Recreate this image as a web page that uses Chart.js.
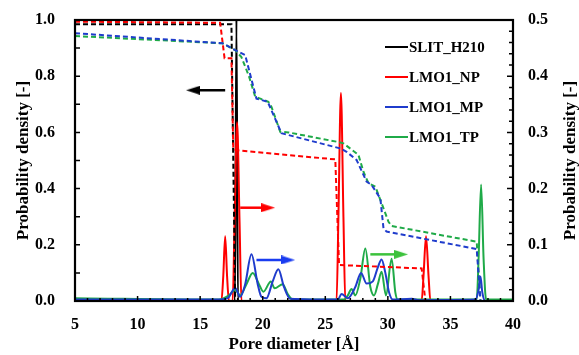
<!DOCTYPE html>
<html>
<head>
<meta charset="utf-8">
<script src="https://cdn.jsdelivr.net/npm/chart.js@4/dist/chart.umd.min.js"></script>
<style>
  html, body { margin: 0; padding: 0; background: #fff; }
</style>
</head>
<body>
<canvas id="chart" width="579" height="355"></canvas>
<script>
// --- data (x = pore diameter in Å) ---
const seriesNames = ['SLIT_H210', 'LMO1_NP', 'LMO1_MP', 'LMO1_TP'];
const seriesColors = ['#000000', '#ff0000', '#1f3ccc', '#1faa48'];
const yTitle = 'Probability density [-]';

// SLIT_H210, left axis
const slitPdf = [[5,0],[17.78,0],[17.9,1.0],[18.02,0],[40,0]];
const slitCum = [[5,0.985],[17.5,0.985],[17.8,0],[40,0]];

// LMO1 samples, right axis
const npPdf = [[5,0],[16.7,0],[16.85,0.045],[17.0,0.115],[17.15,0.045],[17.3,0],[17.6,0],[17.75,0.14],
  [17.95,0.318],[18.15,0.14],[18.3,0],[25.9,0],[26.05,0.15],[26.25,0.37],[26.45,0.15],[26.6,0],
  [32.7,0],[32.85,0.045],[33.05,0.115],[33.25,0.045],[33.4,0],[40,0]];
const npCum = [[5,0.497],[16.6,0.495],[16.95,0.432],[17.5,0.432],[17.65,0.27],[18.0,0.268],
  [25.8,0.252],[26.1,0.064],[32.7,0.058],[33.0,0],[40,0]];

const mpPdf = [[5,0.0025],[16.5,0.0025],[17.2,0.005],[17.8,0.023],[18.2,0.0075],[18.6,0.03],[19.1,0.083],
  [19.6,0.03],[19.9,0.0075],[20.3,0.005],[20.8,0.035],[21.25,0.0565],[21.7,0.025],[22.2,0.004],
  [26.0,0.0025],[26.3,0.0125],[26.8,0.005],[27.4,0.025],[27.86,0.05],[28.3,0.031],[28.8,0.035],
  [29.2,0.06],[29.5,0.074],[29.8,0.05],[30.1,0.015],[30.4,0.0025],[31.9,0.004],[32.5,0.0015],
  [37.0,0.0025],[37.25,0.02],[37.4,0.0435],[37.55,0.015],[37.8,0],[40,0]];
const mpCum = [[5,0.4765],[16.8,0.4585],[17.8,0.4465],[18.6,0.4375],[19.5,0.36],[20.4,0.3545],
  [21.5,0.2985],[26.2,0.2715],[26.7,0.2655],[27.5,0.251],[28.3,0.2125],[28.7,0.2065],[29.4,0.1825],
  [29.65,0.1295],[29.9,0.1235],[37.1,0.0925],[37.4,0],[40,0]];

const tpPdf = [[5,0.005],[16.5,0.0025],[17.3,0.01],[17.8,0.02],[18.2,0.01],[18.7,0.03],[19.2,0.05],
  [19.7,0.03],[20.05,0.0165],[20.65,0.0345],[20.95,0.0225],[21.6,0.03],[22.0,0.0125],[22.4,0.0025],
  [26.5,0.0025],[26.8,0.01],[27.1,0.0215],[27.4,0.01],[27.8,0.04],[28.2,0.0935],[28.6,0.025],
  [28.9,0.01],[29.2,0.03],[29.5,0.052],[29.85,0.01],[30.3,0.075],[30.6,0.015],[30.8,0.0025],
  [37.1,0.0025],[37.25,0.075],[37.45,0.2075],[37.65,0.075],[37.85,0.0025],[40,0.0025]];
const tpCum = [[5,0.4715],[16.8,0.4585],[17.8,0.4465],[18.3,0.434],[18.9,0.4],[19.4,0.3635],
  [20.45,0.3545],[20.7,0.3455],[21.4,0.301],[22.05,0.3],[25.9,0.2835],[26.45,0.2805],[27.65,0.26],
  [28.05,0.23],[28.45,0.2095],[29.0,0.2035],[29.5,0.174],[30.05,0.141],[30.3,0.1335],[37.1,0.1055],
  [37.4,0],[40,0]];

// axis arrows (start, head)
const arrowSlit = [[17.0,0.75],[14.43,0.75]];
const arrowNp = [[18.2,0.166],[20.43,0.166]];
const arrowMp = [[19.5,0.073],[22.03,0.073]];
const arrowTp = [[28.6,0.083],[31.06,0.083]];

const pts = arr => arr.map(p => ({ x: p[0], y: p[1] }));

function arrowHead(color, left) {
  const c = document.createElement('canvas');
  c.width = 14; c.height = 9;
  const g = c.getContext('2d');
  g.fillStyle = color;
  g.beginPath();
  if (left) { g.moveTo(0, 4.5); g.lineTo(14, 0); g.lineTo(14, 9); }
  else { g.moveTo(14, 4.5); g.lineTo(0, 0); g.lineTo(0, 9); }
  g.closePath(); g.fill();
  return c;
}

function pdfSet(data, color, axis) {
  return { data: pts(data), yAxisID: axis, borderColor: color, borderWidth: 2,
    pointRadius: 0, cubicInterpolationMode: 'monotone', fill: false };
}
function cumSet(data, color, axis) {
  return { data: pts(data), yAxisID: axis, borderColor: color, borderWidth: 2,
    borderDash: [5, 3], pointRadius: 0, tension: 0, fill: false };
}
function arrowSet(data, color, axis, left) {
  return { data: pts(data), yAxisID: axis, borderColor: color, borderWidth: 2.5,
    pointRadius: [0, 7], pointStyle: [false, arrowHead(color, left)], tension: 0 };
}

const font = 'Liberation Serif';
const frame = {
  id: 'frame',
  afterDatasetsDraw(chart) {
    const { ctx, chartArea: a, scales: { x, y, y2 } } = chart;
    ctx.save();
    ctx.strokeStyle = '#000';
    ctx.lineWidth = 1.5;
    ctx.beginPath();
    for (let v = 5; v <= 40; v++) {
      const px = x.getPixelForValue(v);
      ctx.moveTo(px, a.bottom); ctx.lineTo(px, a.bottom - (v % 5 === 0 ? 5 : 3));
    }
    for (let i = 0; i <= 10; i++) {
      const py = y.getPixelForValue(i / 10);
      ctx.moveTo(a.left, py); ctx.lineTo(a.left + 5, py);
    }
    for (let i = 0; i <= 25; i++) {
      const py = y2.getPixelForValue(i * 0.02);
      ctx.moveTo(a.right, py); ctx.lineTo(a.right - (i % 5 === 0 ? 6 : 4), py);
    }
    ctx.stroke();
    ctx.lineWidth = 2.2;
    ctx.strokeRect(a.left, a.top, a.width, a.height);

    // legend inside the plot
    ctx.font = 'bold 15px "' + font + '"';
    ctx.textBaseline = 'middle';
    ctx.fillStyle = '#000';
    seriesNames.forEach((name, i) => {
      const ly = a.top + 27 + i * 30;
      const lx = a.right - 128;
      ctx.strokeStyle = seriesColors[i];
      ctx.lineWidth = 2;
      ctx.beginPath(); ctx.moveTo(lx, ly); ctx.lineTo(lx + 23, ly); ctx.stroke();
      ctx.fillText(name, lx + 24, ly + 1);
    });

    // right axis title, read bottom to top like the left one
    ctx.font = 'bold 17px "' + font + '"';
    ctx.textAlign = 'center';
    ctx.translate(chart.width - 8, (a.top + a.bottom) / 2);
    ctx.rotate(-Math.PI / 2);
    ctx.fillText(yTitle, 0, 0);
    ctx.restore();
  }
};

const tickFont = { family: font, size: 16, weight: 'bold' };
const titleFont = { family: font, size: 17, weight: 'bold' };
const noPad = s => { s.paddingTop = 0; s.paddingBottom = 0; s.paddingLeft = 0; s.paddingRight = 0; };

new Chart(document.getElementById('chart'), {
  type: 'line',
  data: {
    datasets: [
      cumSet(mpCum, seriesColors[2], 'y2'),
      cumSet(tpCum, seriesColors[3], 'y2'),
      cumSet(npCum, seriesColors[1], 'y2'),
      cumSet(slitCum, seriesColors[0], 'y'),
      pdfSet(mpPdf, seriesColors[2], 'y2'),
      pdfSet(tpPdf, seriesColors[3], 'y2'),
      pdfSet(npPdf, seriesColors[1], 'y2'),
      pdfSet(slitPdf, seriesColors[0], 'y'),
      arrowSet(arrowSlit, '#000000', 'y', true),
      arrowSet(arrowNp, '#ff0000', 'y2', false),
      arrowSet(arrowMp, '#1a3cf0', 'y2', false),
      arrowSet(arrowTp, '#3cc23c', 'y2', false)
    ]
  },
  options: {
    responsive: false,
    animation: false,
    layout: { padding: { top: 20, left: 0, right: 0, bottom: 0 } },
    plugins: { legend: { display: false }, tooltip: { enabled: false } },
    scales: {
      x: {
        type: 'linear', min: 5, max: 40,
        grid: { display: false, drawTicks: false }, border: { display: false },
        ticks: { stepSize: 5, padding: 14, color: '#000', font: tickFont, maxRotation: 0 },
        title: { display: true, text: 'Pore diameter [Å]', color: '#000', font: titleFont, padding: 0 },
        afterFit: s => { s.height = 54; noPad(s); }
      },
      y: {
        position: 'left', min: 0, max: 1.0,
        grid: { display: false, drawTicks: false }, border: { display: false },
        ticks: { stepSize: 0.2, padding: 20, color: '#000', font: tickFont, callback: v => v.toFixed(1) },
        title: { display: true, text: yTitle, color: '#000', font: titleFont, padding: { top: 13, bottom: 0 } },
        afterFit: s => { s.width = 75; noPad(s); }
      },
      y2: {
        position: 'right', min: 0, max: 0.5, display: true,
        grid: { display: false, drawTicks: false }, border: { display: false },
        ticks: { stepSize: 0.1, padding: 15, color: '#000', font: tickFont, callback: v => v.toFixed(1) },
        title: { display: false },
        afterFit: s => { s.width = 66; noPad(s); }
      }
    }
  },
  plugins: [frame]
});
</script>
</body>
</html>
